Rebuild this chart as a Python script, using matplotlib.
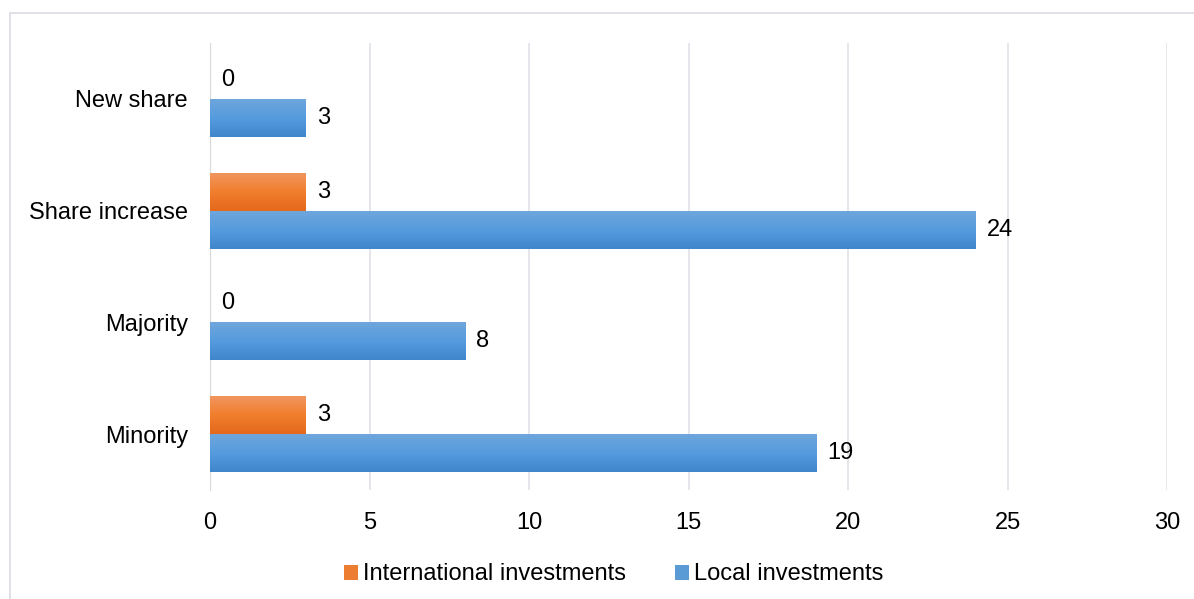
import matplotlib.pyplot as plt
import numpy as np
from matplotlib.colors import LinearSegmentedColormap
from matplotlib.patches import Rectangle, Patch

plt.rcParams['font.family'] = ['Liberation Sans', 'DejaVu Sans']

# bottom to top on the chart
categories = ['Minority', 'Majority', 'Share increase', 'New share']
international = [3, 0, 3, 0]
local = [19, 8, 24, 3]
x_ticks = [0, 5, 10, 15, 20, 25, 30]

orange_cmap = LinearSegmentedColormap.from_list('org', ['#F29660', '#F07E2C', '#E5691C'])
blue_cmap = LinearSegmentedColormap.from_list('blu', ['#6EA6DC', '#559BDE', '#3F86CB'])

fs = 17

fig = plt.figure(figsize=(11.94, 5.99), dpi=100)
ax = fig.add_axes([0.1759, 0.182, 0.8015, 0.746])

# light frame round the whole chart
fig.patches.append(Rectangle((10 / 1194, -0.1), 1.2, 1 - 13 / 599 + 0.1,
                             transform=fig.transFigure, fill=False,
                             edgecolor='#D9DCE3', linewidth=1.2))

y = np.arange(len(categories))
h = 0.34
bars_int = ax.barh(y + h / 2, international, height=h, color='#ED7D31', zorder=2)
bars_loc = ax.barh(y - h / 2, local, height=h, color='#5B9BD5', zorder=2)

grad = np.linspace(0, 1, 64).reshape(-1, 1)
for bars, cmap in [(bars_int, orange_cmap), (bars_loc, blue_cmap)]:
    for b in bars:
        if b.get_width() <= 0:
            continue
        x0, y0 = b.get_x(), b.get_y()
        im = ax.imshow(grad, cmap=cmap, aspect='auto', origin='upper',
                       extent=(x0, x0 + b.get_width(), y0, y0 + b.get_height()),
                       zorder=3)
        im.set_clip_path(b)

for bars in [bars_int, bars_loc]:
    for b in bars:
        ax.annotate(str(int(b.get_width())),
                    (b.get_width(), b.get_y() + b.get_height() / 2),
                    xytext=(8, 0), textcoords='offset points',
                    va='center', ha='left', fontsize=fs, color='black')

ax.set_xlim(0, 30)
ax.set_ylim(-0.5, 3.5)
ax.set_xticks(x_ticks)
ax.set_yticks(y)
ax.set_yticklabels(categories)
ax.tick_params(axis='both', length=0, labelsize=fs)
ax.tick_params(axis='x', pad=16)
ax.tick_params(axis='y', pad=16)
ax.grid(axis='x', color='#DFE2E8', linewidth=1.2, zorder=0)
ax.set_axisbelow(True)
for s in ['top', 'right', 'bottom']:
    ax.spines[s].set_visible(False)
ax.spines['left'].set_color('#D9D9D9')

handles = [Patch(facecolor='#ED7D31', label='International investments'),
           Patch(facecolor='#5B9BD5', label='Local investments')]
fig.legend(handles=handles, loc='center', bbox_to_anchor=(0.514, 0.041), ncol=2,
           frameon=False, fontsize=fs, handlelength=0.6, handleheight=0.6,
           handletextpad=0.2, columnspacing=2.1)

fig.savefig('out.png', dpi=100)
